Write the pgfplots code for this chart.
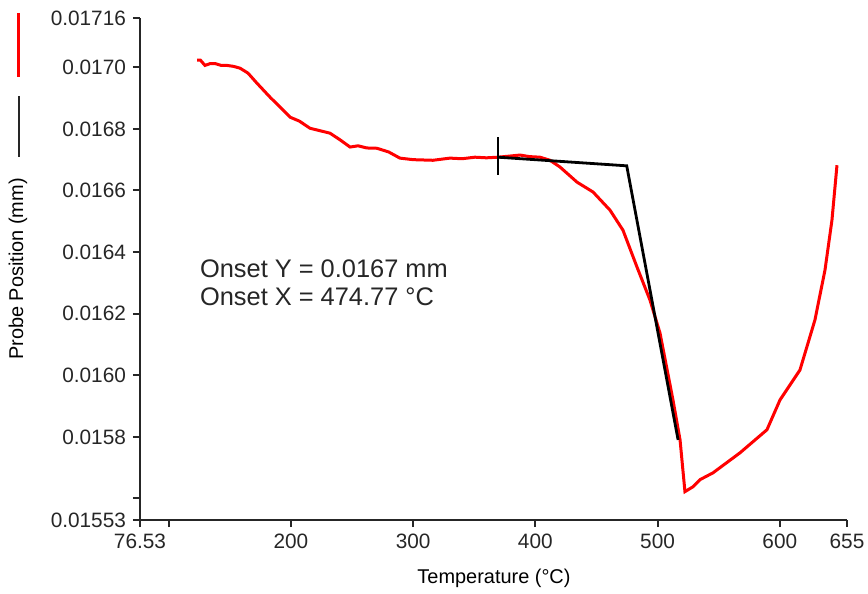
\documentclass[border=0pt]{standalone}
\usepackage{pgfplots}
\pgfplotsset{compat=1.18}
\usepackage{fontspec}
\setmainfont{Liberation Sans}
\definecolor{txt}{gray}{0.15}
\begin{document}
\begin{tikzpicture}
\path[use as bounding box] (-70bp,-37bp) rectangle (364bp,260bp);
\begin{axis}[
  scale only axis, width=353.5bp, height=251bp,
  xmin=76.53, xmax=655, ymin=0.01553, ymax=0.01716,
  axis x line*=bottom, axis y line*=left,
  axis line style={line width=1bp, black!85},
  tick align=outside, major tick length=3.5bp,
  every tick/.style={line width=1bp, black!85},
  scaled y ticks=false, scaled x ticks=false,
  xtick={76.53,100,200,300,400,500,600,655},
  xticklabels={76.53,,200,300,400,500,600,655},
  ytick={0.01553,0.0156,0.0158,0.0160,0.0162,0.0164,0.0166,0.0168,0.0170,0.01716},
  yticklabels={0.01553,,0.0158,0.0160,0.0162,0.0164,0.0166,0.0168,0.0170,0.01716},
  ticklabel style={font=\fontsize{10.4bp}{12bp}\selectfont, text=txt},
  /pgf/number format/assume math mode=true,
  xlabel={Temperature (°C)}, ylabel={Probe Position (mm)},
  label style={font=\fontsize{10.4bp}{12bp}\selectfont, text=txt},
  every axis x label/.style={at={(axis description cs:0.5007,-0.1155)}, anchor=center},
  every axis y label/.style={at={(axis description cs:-0.1726,0.5)}, rotate=90, anchor=center},
  clip=false,
]
\addplot[red, line width=1.5bp, mark=none] coordinates {
(123.2,0.017023) (126,0.017023) (129.7,0.017006) (134,0.017012) (138,0.017012) (143,0.017006) (147.7,0.017006) (153,0.017003) (158.4,0.016997)
(164.9,0.016981) (172.3,0.016948) (182.9,0.016903) (190,0.016875) (199.3,0.016838) (207,0.016825) (215.6,0.016802)
(232.0,0.016786) (240,0.016765) (248.4,0.016741) (255,0.016745) (262,0.016738) (270.4,0.016737) (280,0.016725) (289.2,0.016705) (300,0.016700) (316.2,0.016698)
(330.2,0.016705) (340,0.016703) (350.6,0.016708) (360,0.016706) (369.4,0.016708) (380,0.016712) (387.4,0.016715) (395,0.016710) (403.8,0.016708)
(412.0,0.016698) (420.2,0.016676) (434.1,0.016627) (447.2,0.016595) (461.1,0.016536)
(471.7,0.016471) (483.2,0.016351) (493.8,0.016244) (502.0,0.016137) (512.6,0.015920)
(518.4,0.015790) (522.4,0.015622) (529.0,0.015638) (534.7,0.015661) (545.3,0.015683)
(567.4,0.015748) (589.5,0.015823) (600.2,0.015920) (616.5,0.016017) (628.8,0.016180)
(637.0,0.016342) (642.7,0.016504) (646.8,0.016682)
};
\addplot[black, line width=1.4bp, mark=none] coordinates {
(369.5,0.016708) (474.77,0.01668) (516.8,0.01579)
};
\addplot[black, line width=1bp, mark=none] coordinates {
(369.5,0.016773) (369.5,0.01665)
};
\node[anchor=base west, font=\fontsize{12.7bp}{14bp}\selectfont, text=txt] at (axis cs:119.9,0.016316) {Onset Y = 0.0167 mm};
\node[anchor=base west, font=\fontsize{12.7bp}{14bp}\selectfont, text=txt] at (axis cs:119.9,0.016225) {Onset X = 474.77 °C};
\end{axis}
\draw[red, line width=1.5bp] (-60.5bp,253.5bp) -- (-60.5bp,221.5bp);
\draw[black!85, line width=1.2bp] (-60.5bp,212bp) -- (-60.5bp,181.5bp);
\end{tikzpicture}
\end{document}
